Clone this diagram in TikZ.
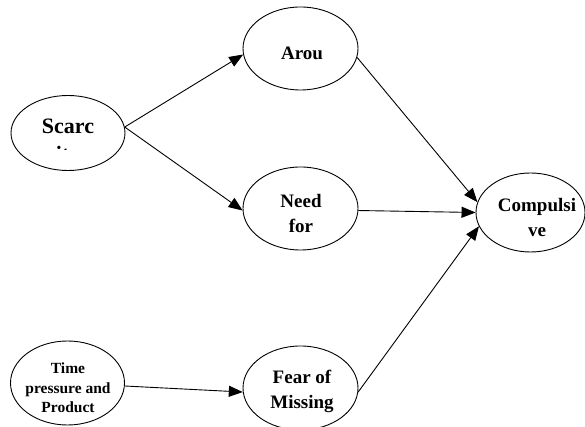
\documentclass[tikz,border=0pt]{standalone}
\usepackage{fontspec}
\setmainfont{Liberation Serif}
\usetikzlibrary{shapes.geometric,arrows.meta}
\begin{document}
\begin{tikzpicture}[x=1pt,y=1pt,
  oval/.style={draw=black,line width=0.9pt,ellipse,inner sep=0pt},
  lbl/.style={anchor=base,align=center,inner sep=0pt,font=\bfseries\fontsize{19}{25.5}\selectfont},
  slbl/.style={anchor=base,align=center,inner sep=0pt,font=\bfseries\fontsize{15.5}{19.5}\selectfont},
  conn/.style={line width=0.9pt,-{Triangle[length=14pt,width=11pt]}}]
\useasboundingbox[fill=white] (0,0) rectangle (585,427);
% ellipses
\node[oval,minimum width=114pt,minimum height=75pt] (scar) at (68,294) {};
\node[oval,minimum width=115pt,minimum height=83pt] (arou) at (300.5,378.5) {};
\node[oval,minimum width=115pt,minimum height=83pt] (need) at (300.5,218.5) {};
\node[oval,minimum width=109pt,minimum height=79pt] (comp) at (530.5,214.5) {};
\node[oval,minimum width=114pt,minimum height=84pt] (time) at (67.5,44) {};
\node[oval,minimum width=115pt,minimum height=84pt] (fear) at (300.5,39) {};
% texts
\begin{scope}
\clip (10,277.5) rectangle (126,330);
\node[lbl,font=\bfseries\fontsize{22}{28}\selectfont] (scart) at (68,265) {Scarc\\ity};
\end{scope}
\node[lbl] (arout) at (302,367) {Arou};
\node[lbl] (needt) at (301,194) {Need\\for};
\node[lbl] (compt) at (537,190) {Compulsi\\ve};
\node[lbl] (feart) at (302,18) {Fear of\\Missing};
\node[slbl] (timet) at (68,14) {Time\\pressure and\\Product};
% connectors
\draw[conn] (scar.6) -- (arou.186.5);
\draw[conn] (scar.6) -- (need.182.5);
\draw[conn] (arou.351.6) -- (comp.169);
\draw[conn] (need.358.5) -- (comp.180.5);
\draw[conn] (fear.356) -- (comp.195);
\draw[conn] (time.357) -- (fear.184);
\end{tikzpicture}
\end{document}
